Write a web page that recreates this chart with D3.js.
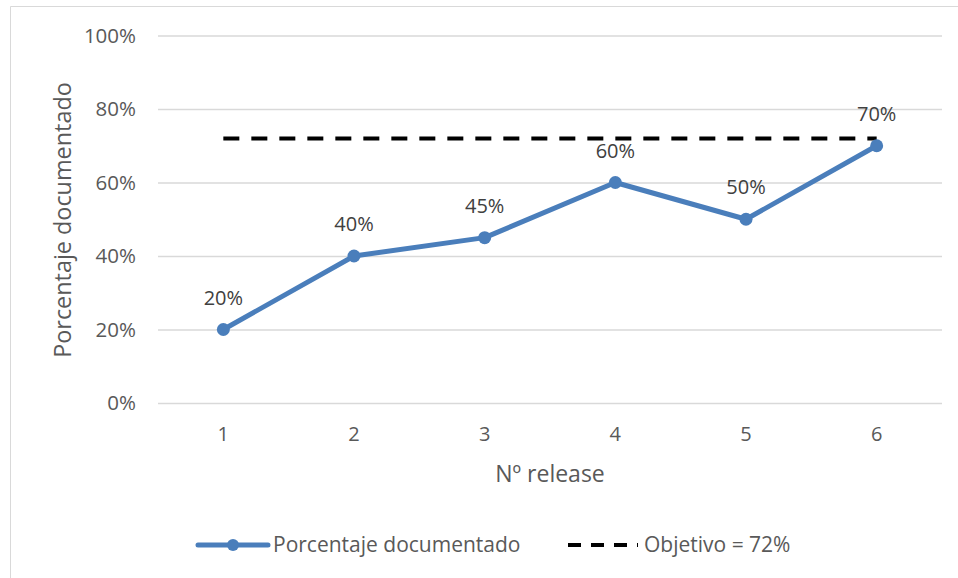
<!DOCTYPE html>
<html><head><meta charset="utf-8">
<script src="https://cdn.jsdelivr.net/npm/d3@7"></script>
<style>body{margin:0;background:#fff;} text{font-family:"Open Sans","Noto Sans",sans-serif;}</style>
</head><body>
<svg id="c" width="958" height="578"></svg>
<script>
const releases = ["1","2","3","4","5","6"];
const documented = [20, 40, 45, 60, 50, 70];
const target = 72;
const yTicks = [0, 20, 40, 60, 80, 100];
const seriesNames = ["Porcentaje documentado", "Objetivo = 72%"];

const svg = d3.select("#c");
const W = 958, H = 578;
const m = {left:158, right:16, top:35.5, bottom:175};
const x = d3.scaleBand().domain(releases).range([m.left, W - m.right]);
const y = d3.scaleLinear().domain([0,100]).range([H - m.bottom, m.top]);
const blue = "#4a7ebb", grey = "#595959";
const FS = 20;

// outer border
svg.append("path").attr("d", `M10.5,${H} V6.5 H${W}`).attr("fill","none").attr("stroke","#d9d9d9").attr("stroke-width",1);

// gridlines
const yAxis = d3.axisLeft(y).tickValues(yTicks).tickFormat(d => d + "%").tickSize(-(W - m.right - m.left)).tickPadding(22);
const ga = svg.append("g").attr("transform", `translate(${m.left},0)`).call(yAxis);
ga.select(".domain").remove();
ga.selectAll(".tick line").attr("stroke","#d9d9d9").attr("stroke-width",1.3);
ga.selectAll(".tick text").attr("fill",grey).attr("font-size",20.5).attr("font-family",null);

const xAxis = d3.axisBottom(x).tickSize(0).tickPadding(0);
const gx = svg.append("g").attr("transform", `translate(0,${y(0)})`).call(xAxis);
gx.select(".domain").remove();
gx.selectAll(".tick text").attr("fill",grey).attr("font-size",FS).attr("font-family",null).attr("dy",null).attr("y",38);

// axis titles
svg.append("text").attr("x", x.range()[0] + (x.range()[1]-x.range()[0])/2).attr("y", 482)
  .attr("text-anchor","middle").attr("fill",grey).attr("font-size",23).text("Nº release");
svg.append("text").attr("transform", `translate(71,220) rotate(-90)`)
  .attr("text-anchor","middle").attr("fill",grey).attr("font-size",23.4).text("Porcentaje documentado");

// target dashed line
const cx = d => x(d) + x.bandwidth()/2;
svg.append("line").attr("x1", cx(releases[0])).attr("x2", cx(releases[releases.length-1]))
  .attr("y1", y(target)).attr("y2", y(target))
  .attr("stroke","#000").attr("stroke-width",4).attr("stroke-dasharray","16,12");

// series line
const pts = releases.map((r,i) => [cx(r), y(documented[i])]);
svg.append("path").attr("d", d3.line()(pts)).attr("fill","none").attr("stroke",blue).attr("stroke-width",5).attr("stroke-linejoin","round");
svg.selectAll(".dot").data(pts).join("circle").attr("cx", d=>d[0]).attr("cy", d=>d[1]).attr("r",6.5).attr("fill",blue);

// data labels
svg.selectAll(".lbl").data(releases).join("text")
  .attr("x", r => cx(r)).attr("y", (r,i) => y(documented[i]) - 25)
  .attr("text-anchor","middle").attr("fill","#404040").attr("font-size",FS)
  .text((r,i) => documented[i] + "%");

// legend
const ly = 545;
svg.append("line").attr("x1",198).attr("x2",268).attr("y1",ly).attr("y2",ly).attr("stroke",blue).attr("stroke-width",5).attr("stroke-linecap","round");
svg.append("circle").attr("cx",233).attr("cy",ly).attr("r",6).attr("fill",blue);
svg.append("text").attr("x",273).attr("y",ly+7).attr("fill",grey).attr("font-size",21).text(seriesNames[0]);
svg.append("line").attr("x1",568).attr("x2",638).attr("y1",ly).attr("y2",ly).attr("stroke","#000").attr("stroke-width",4).attr("stroke-dasharray","13,10");
svg.append("text").attr("x",644).attr("y",ly+7).attr("fill",grey).attr("font-size",21).text(seriesNames[1]);
</script>
</body></html>
